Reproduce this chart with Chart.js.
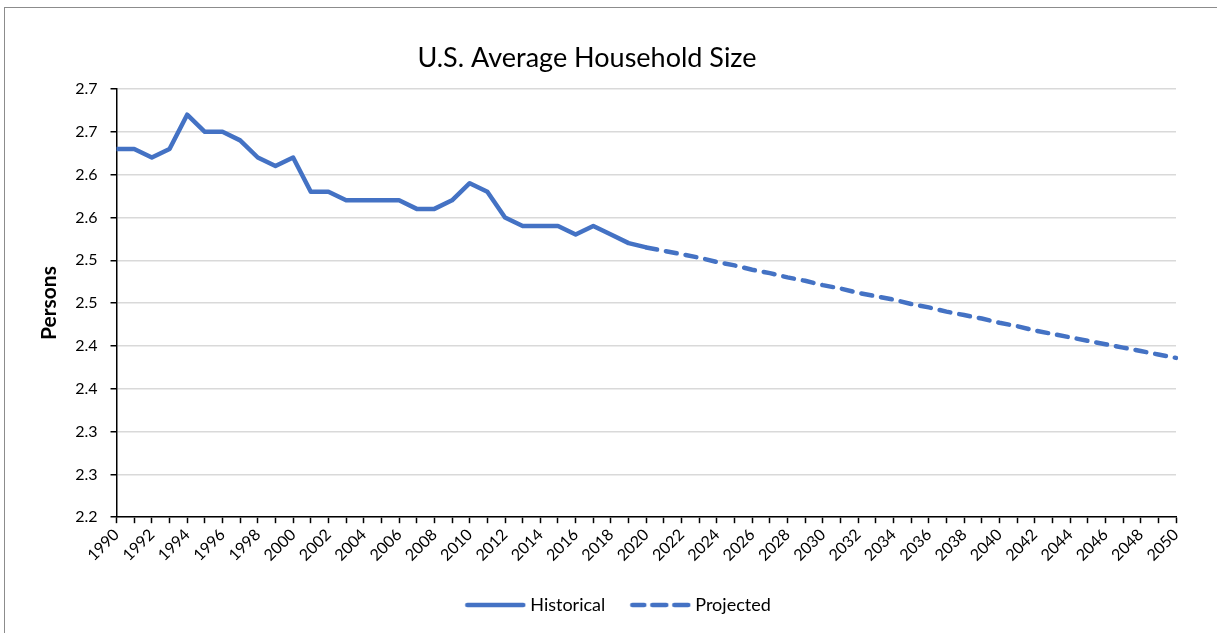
<!DOCTYPE html>
<html>
<head>
<meta charset="utf-8">
<script src="https://cdn.jsdelivr.net/npm/chart.js@4.4.1/dist/chart.umd.min.js"></script>
<style>
  html, body { margin: 0; padding: 0; background: #fff; }
  #wrap { position: relative; width: 1217px; height: 633px; }
</style>
</head>
<body>
<div id="wrap"><canvas id="grafico" width="1217" height="633"></canvas></div>
<script>
// anos 1990 - 2050
const anos = [];
for (let a = 1990; a <= 2050; a++) anos.push(String(a));

// valores (pessoas por domicilio)
const historico = [
    2.63, 2.63, 2.62, 2.63, 2.67, 2.65, 2.65, 2.64, 2.62, 2.61,
    2.62, 2.58, 2.58, 2.57, 2.57, 2.57, 2.57, 2.56, 2.56, 2.57,
    2.59, 2.58, 2.55, 2.54, 2.54, 2.54, 2.53, 2.54, 2.53, 2.52,
    2.515
];
const projetado = [
    2.515, 2.511, 2.507, 2.503, 2.498, 2.494, 2.489, 2.485, 2.480, 2.476,
    2.471, 2.467, 2.462, 2.458, 2.454, 2.449, 2.445, 2.440, 2.436, 2.432,
    2.427, 2.423, 2.418, 2.414, 2.410, 2.406, 2.402, 2.398, 2.394, 2.390,
    2.386
];
const yMin = 2.2;
const yMax = 2.7;
const yPasso = 0.05;

// monta as series no eixo completo
const serieHist = anos.map((a, i) => i < historico.length ? historico[i] : null);
const inicioProj = anos.indexOf('2020');
const serieProj = anos.map((a, i) => i >= inicioProj ? projetado[i - inicioProj] : null);

const azul = '#4472c4';
const fonte = "Lato, 'Open Sans', sans-serif";
const tituloTexto = 'U.S. Average Household Size';

// amostras da legenda (linha cheia e tracejada)
function amostra(tracejada) {
    const c = document.createElement('canvas');
    c.width = 62;
    c.height = 8;
    const g = c.getContext('2d');
    g.strokeStyle = azul;
    g.lineWidth = 4.5;
    g.lineCap = 'round';
    g.beginPath();
    if (tracejada) {
        [[3, 15], [23, 37], [45, 59]].forEach(([a, b]) => { g.moveTo(a, 4); g.lineTo(b, 4); });
    } else {
        g.moveTo(3, 4);
        g.lineTo(59, 4);
    }
    g.stroke();
    return c;
}

// fundo branco, moldura, titulo e ajuste da legenda
const moldura = {
    id: 'moldura',
    afterLayout(chart) {
        // legenda um pouco deslocada para a direita, como no original
        chart.legend.left += 22;
        chart.legend.right += 22;
    },
    beforeDraw(chart) {
        const ctx = chart.ctx;
        ctx.save();
        ctx.fillStyle = '#fff';
        ctx.fillRect(0, 0, chart.width, chart.height);
        ctx.strokeStyle = '#8c8c8c';
        ctx.lineWidth = 1;
        ctx.strokeRect(4.5, 7.5, chart.width + 10, chart.height + 10);
        ctx.restore();
    },
    afterDraw(chart) {
        const ctx = chart.ctx;
        ctx.save();
        ctx.fillStyle = '#000';
        ctx.font = '27px ' + fonte;
        ctx.textAlign = 'center';
        ctx.textBaseline = 'middle';
        ctx.fillText(tituloTexto, 587, 58);
        ctx.restore();
    }
};

const config = {
    type: 'line',
    data: {
        labels: anos,
        datasets: [
            {
                label: 'Historical',
                data: serieHist,
                borderColor: azul,
                backgroundColor: azul,
                borderWidth: 4.5,
                pointRadius: 0,
                pointStyle: amostra(false),
                tension: 0,
                borderJoinStyle: 'round'
            },
            {
                label: 'Projected',
                data: serieProj,
                borderColor: azul,
                backgroundColor: azul,
                borderWidth: 4.5,
                borderDash: [11, 9],
                borderCapStyle: 'round',
                pointRadius: 0,
                pointStyle: amostra(true),
                tension: 0
            }
        ]
    },
    options: {
        responsive: false,
        animation: false,
        layout: {
            padding: { top: 89, left: 20, right: 41, bottom: 9 }
        },
        plugins: {
            title: { display: false },
            legend: {
                position: 'bottom',
                labels: {
                    usePointStyle: true,
                    pointStyleWidth: 52,
                    boxHeight: 18,
                    color: '#000',
                    padding: 29,
                    font: { family: fonte, size: 18 }
                }
            },
            tooltip: { enabled: false }
        },
        scales: {
            x: {
                offset: false,
                border: { color: '#000', width: 1.5 },
                grid: {
                    drawOnChartArea: false,
                    drawTicks: true,
                    tickLength: 6,
                    tickColor: '#000',
                    tickWidth: 1.5
                },
                ticks: {
                    autoSkip: false,
                    minRotation: 45,
                    maxRotation: 45,
                    padding: 2,
                    color: '#000',
                    font: { family: fonte, size: 16 },
                    callback: function (valor, indice) {
                        return indice % 2 === 0 ? anos[indice] : '';
                    }
                }
            },
            y: {
                min: yMin,
                max: yMax,
                border: { color: '#000', width: 1.5 },
                grid: {
                    color: '#d9d9d9',
                    lineWidth: 1.5,
                    tickLength: 6,
                    tickColor: '#000',
                    tickWidth: 1.5
                },
                ticks: {
                    stepSize: yPasso,
                    padding: 13,
                    color: '#000',
                    font: { family: fonte, size: 16 },
                    callback: function (valor) {
                        return (Math.round(valor * 10 + 0.001) / 10).toFixed(1);
                    }
                },
                title: {
                    display: true,
                    text: 'Persons',
                    color: '#000',
                    font: { family: fonte, size: 21, weight: 'bold' },
                    padding: { top: 17, bottom: 0 }
                }
            }
        }
    },
    plugins: [moldura]
};

const ctxGrafico = document.getElementById('grafico').getContext('2d');
const grafico = new Chart(ctxGrafico, config);
</script>
</body>
</html>
